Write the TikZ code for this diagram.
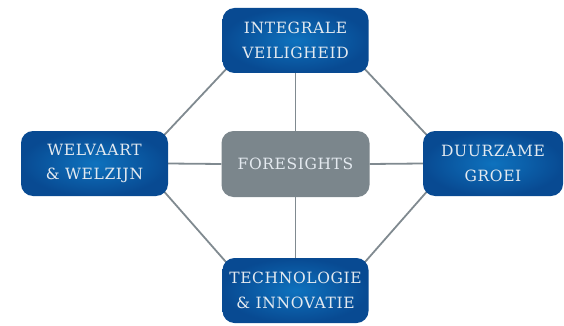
\documentclass[tikz,border=0pt]{standalone}
\usepackage{fontspec}
\setmainfont{DejaVu Serif}
\newfontfamily\boxfont[LetterSpace=4]{DejaVu Serif}
\definecolor{linegray}{RGB}{128,138,144}
\definecolor{boxgray}{RGB}{123,134,140}
\definecolor{blueinner}{RGB}{14,114,190}
\definecolor{blueouter}{RGB}{8,74,146}
\definecolor{txt}{RGB}{228,234,240}
\pgfdeclarelayer{bg}
\pgfsetlayers{bg,main}
\begin{document}
\begin{tikzpicture}[x=1pt,y=-1pt,
  bluebox/.style={rounded corners=12pt, minimum width=146pt, minimum height=65pt,
    inner color=blueinner, outer color=blueouter, text=txt, align=center,
    font=\boxfont\fontsize{15.5}{24.5}\selectfont},
  graybox/.style={rounded corners=12pt, minimum width=148pt, minimum height=66pt,
    fill=boxgray, text=txt, align=center, font=\boxfont\fontsize{15.5}{24.5}\selectfont},
  conn/.style={draw=linegray, line width=1.8pt},
  diag/.style={conn, shorten <=-7pt, shorten >=-7pt}]
\useasboundingbox (0,0) rectangle (564,326);
\node[bluebox] (top) at (295.5,40.5) {INTEGRALE\\VEILIGHEID};
\node[graybox] (mid) at (295.5,164) {FORESIGHTS};
\node[bluebox, minimum width=147pt] (left) at (94.5,163.5) {WELVAART\\\&\ WELZIJN};
\node[bluebox, minimum width=140pt] (right) at (493,163.5) {DUURZAME\\GROEI};
\node[bluebox] (bot) at (295.5,290.5) {TECHNOLOGIE\\\&\ INNOVATIE};
\begin{pgfonlayer}{bg}
\path[diag] (top.south west) -- (left.north east);
\path[diag] (top.south east) -- (right.north west);
\path[diag] (left.south east) -- (bot.north west);
\path[diag] (right.south west) -- (bot.north east);
\path[conn] (top.south) -- (mid.north);
\path[conn] (mid.south) -- (bot.north);
\path[conn] (left.east) -- (mid.west);
\path[conn] (mid.east) -- (right.west);
\end{pgfonlayer}
\end{tikzpicture}
\end{document}
